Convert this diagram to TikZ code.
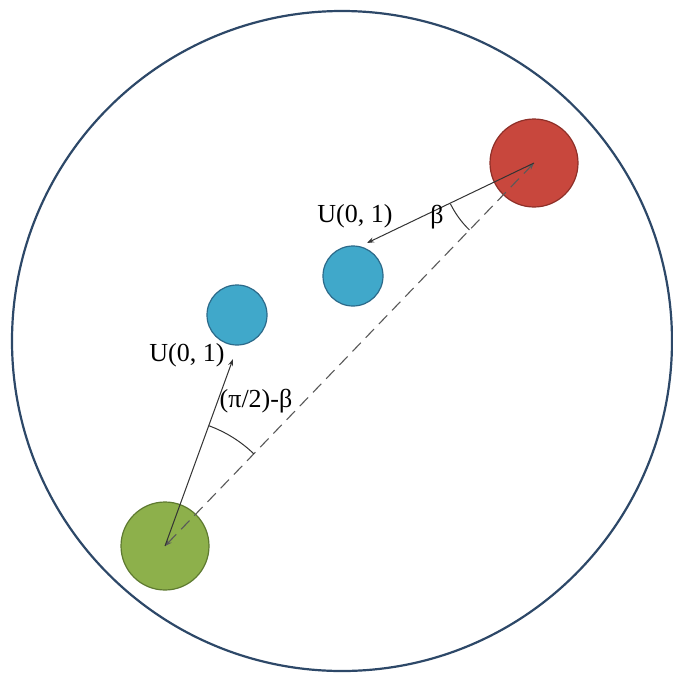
\documentclass[tikz,border=0pt]{standalone}
\usepackage{fontspec}
\setmainfont{Liberation Serif}
\usetikzlibrary{arrows.meta}
\definecolor{ringc}{HTML}{2D4868}
\definecolor{redf}{HTML}{C8473D}
\definecolor{redd}{HTML}{8E2F28}
\definecolor{bluef}{HTML}{40A8CA}
\definecolor{blued}{HTML}{2C6A8A}
\definecolor{greenf}{HTML}{8DB04B}
\definecolor{greend}{HTML}{5E7A30}
\tikzset{
  ball/.style={circle, draw, line width=1.2pt, inner sep=0pt},
  lbl/.style={font=\fontsize{26}{30}\selectfont, inner sep=1pt},
  vec/.style={draw=black!80, line width=1pt, -{Stealth[length=7pt,width=5pt]}},
  dline/.style={draw=black!65, line width=1.1pt, dashed, dash pattern=on 12pt off 7pt, {Stealth[length=7pt,width=5pt]}-{Stealth[length=7pt,width=5pt]}},
  anglearc/.style={draw=black!80, line width=1pt}
}
\begin{document}
\begin{tikzpicture}[x=1pt,y=-1pt]
\useasboundingbox (0,0) rectangle (673,673);
\fill[white] (0,0) rectangle (673,673);
\node[circle, draw=ringc, line width=2.2pt, minimum size=660pt, inner sep=0pt] (ring) at (342,341) {};
\node[ball, fill=redf, draw=redd, minimum size=88pt] (red) at (534,163) {};
\node[ball, fill=bluef, draw=blued, minimum size=60pt] (blueA) at (353,276) {};
\node[ball, fill=bluef, draw=blued, minimum size=60pt] (blueB) at (237,315) {};
\node[ball, fill=greenf, draw=greend, minimum size=88pt] (green) at (165,546) {};
\coordinate (tipA) at (367,243);
\coordinate (tipB) at (233,359);
\draw[dline] (green.center) -- (red.center);
\draw[vec] (red.center) -- (tipA);
\draw[vec] (green.center) -- (tipB);
\draw[anglearc] (red.center) ++(154:93) arc[start angle=154, end angle=134, radius=93];
\draw[anglearc] (green.center) ++(-70:128) arc[start angle=-70, end angle=-46, radius=128];
\node[lbl] (u1) at (355,216) {U(0, 1)};
\node[lbl] (b1) at (437,217) {β};
\node[lbl] (u2) at (187,355) {U(0, 1)};
\node[lbl] (pb) at (256,401) {(π/2)-β};
\end{tikzpicture}
\end{document}
